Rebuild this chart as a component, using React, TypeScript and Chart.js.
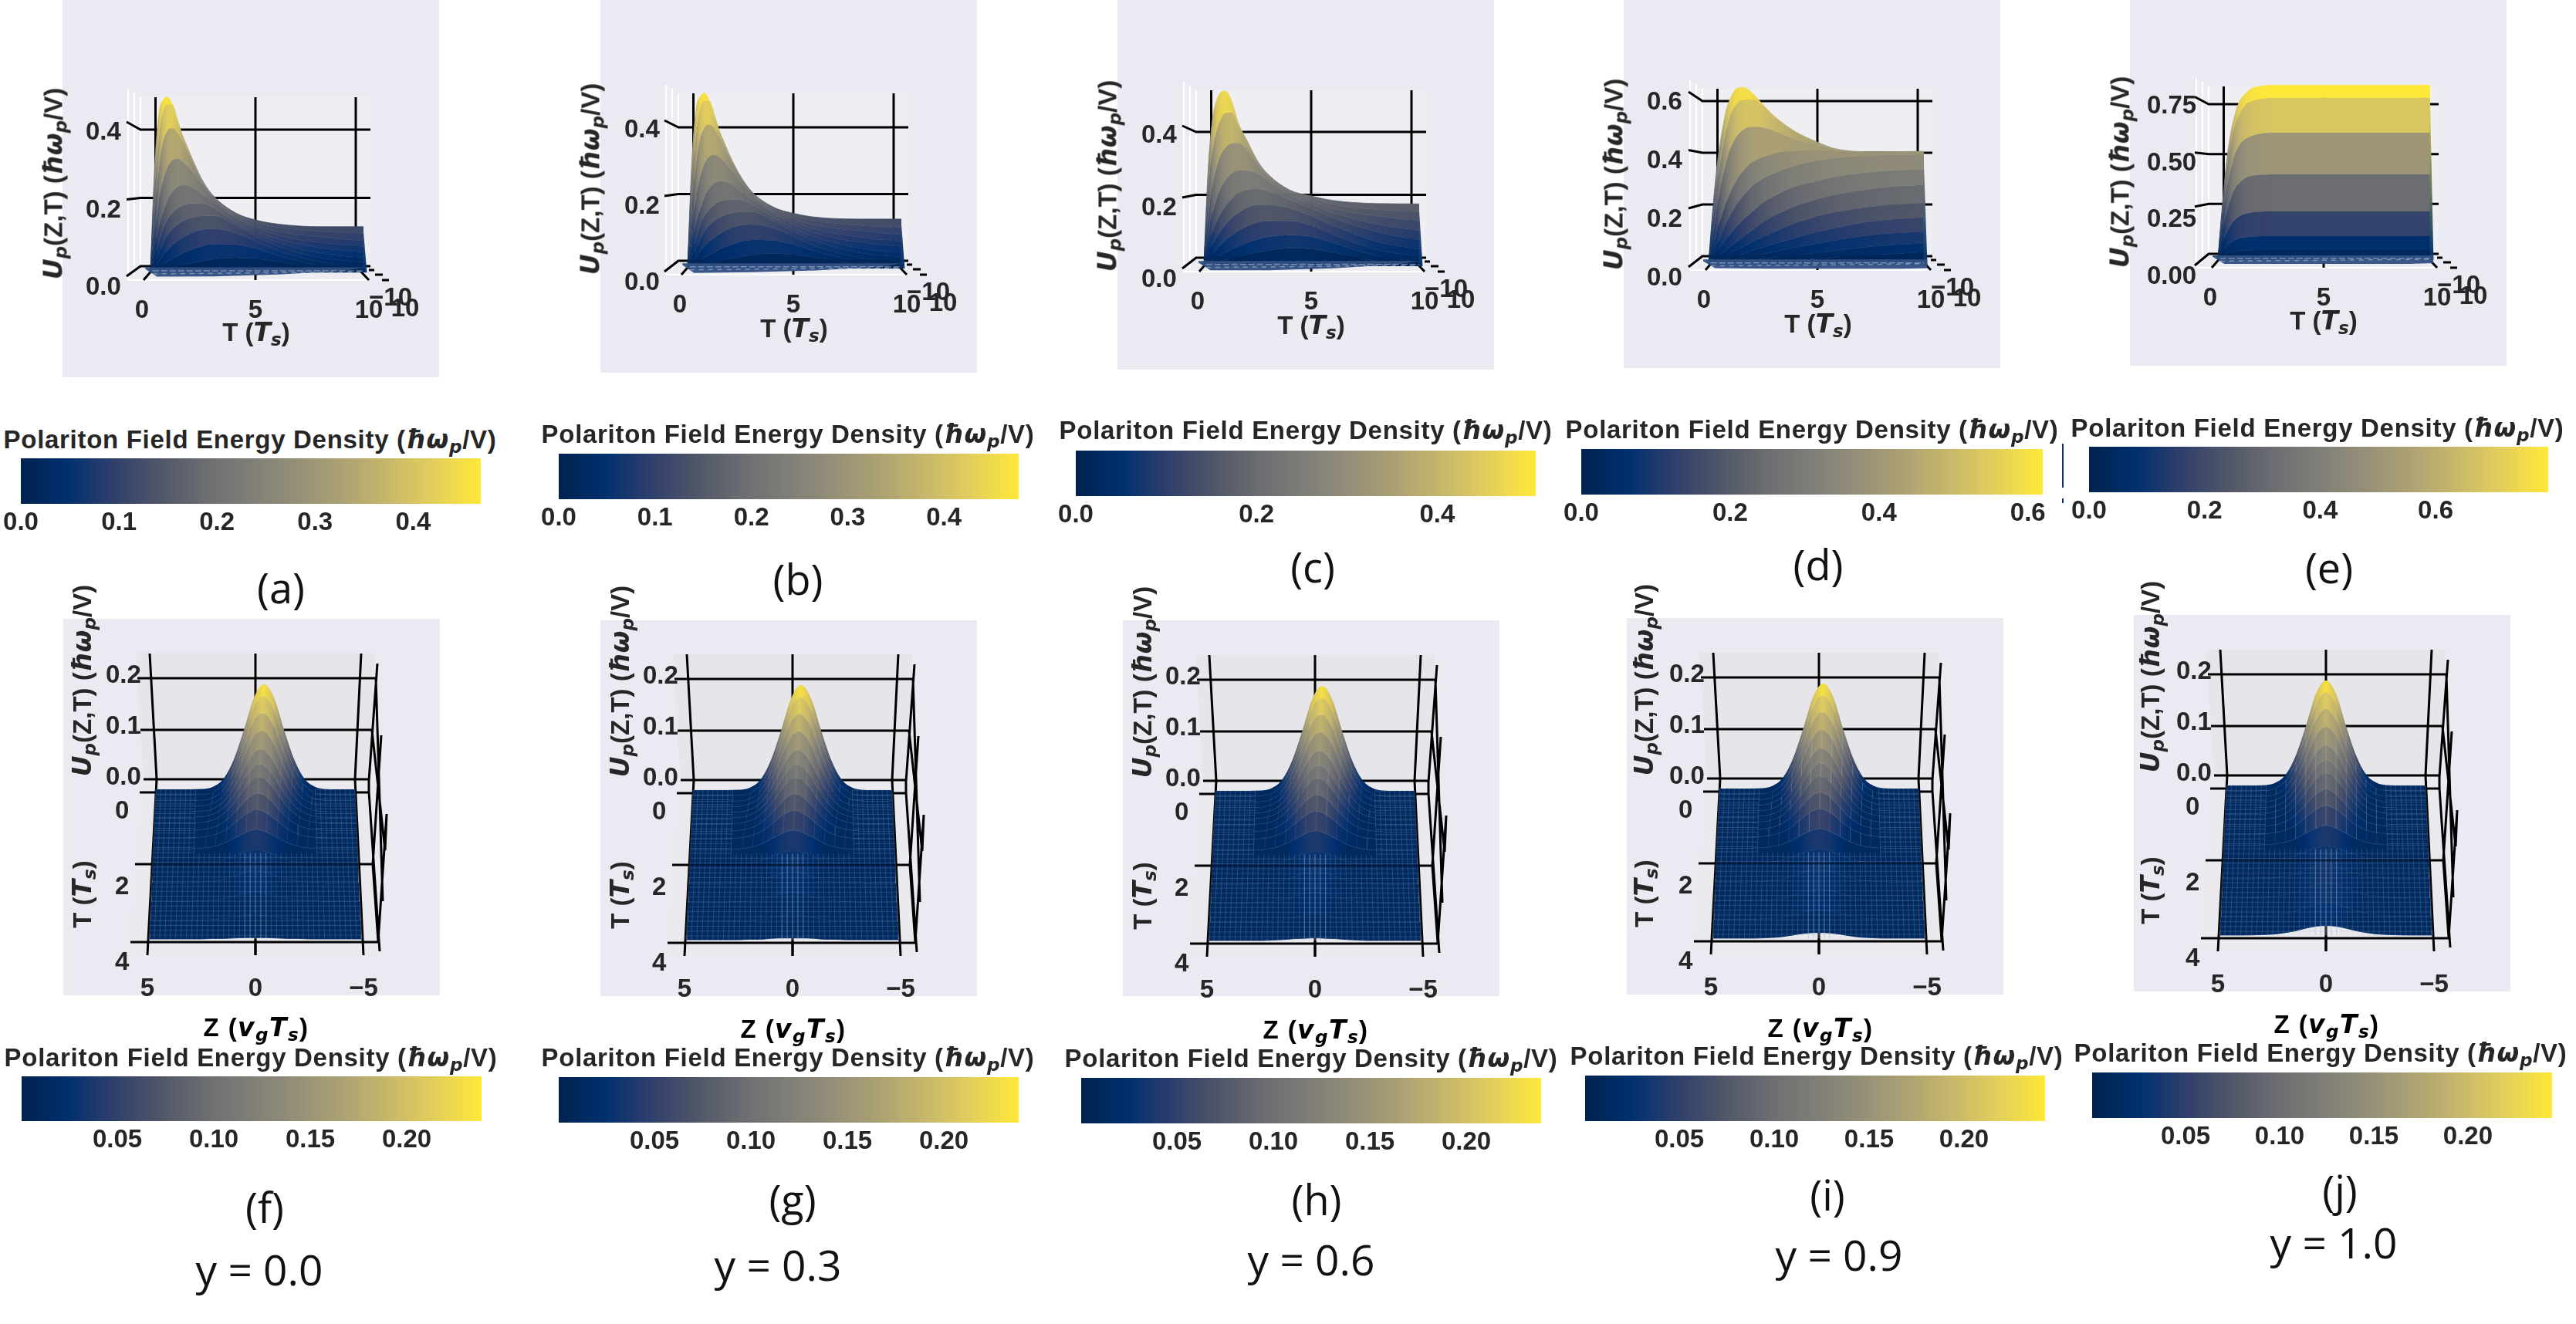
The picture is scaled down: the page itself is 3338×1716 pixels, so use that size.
import React, { useEffect, useRef } from "react";
import Chart from "chart.js/auto";

/* ---------- data ---------- */
const topTimes = [0, 0.2, 0.4, 0.6, 0.8, 1, 1.3, 1.6, 2, 2.5, 3, 4, 5, 6, 8, 10];

const curvesA = [
  [0.007, 0.286, 0.427, 0.463, 0.47, 0.453, 0.396, 0.355, 0.3, 0.241, 0.203, 0.16, 0.14, 0.13, 0.123, 0.123],
  [0.005, 0.207, 0.365, 0.434, 0.451, 0.451, 0.403, 0.35, 0.295, 0.238, 0.2, 0.155, 0.133, 0.121, 0.11, 0.105],
  [0.003, 0.152, 0.283, 0.352, 0.38, 0.387, 0.372, 0.341, 0.292, 0.236, 0.198, 0.152, 0.125, 0.11, 0.095, 0.085],
  [0.002, 0.096, 0.193, 0.248, 0.283, 0.3, 0.305, 0.293, 0.269, 0.231, 0.196, 0.148, 0.12, 0.1, 0.08, 0.07],
  [0.001, 0.062, 0.124, 0.162, 0.193, 0.214, 0.231, 0.234, 0.227, 0.207, 0.186, 0.146, 0.112, 0.09, 0.066, 0.055],
  [0.001, 0.04, 0.082, 0.118, 0.142, 0.158, 0.173, 0.181, 0.185, 0.184, 0.172, 0.135, 0.103, 0.08, 0.052, 0.04],
  [0, 0.026, 0.055, 0.08, 0.1, 0.115, 0.13, 0.14, 0.148, 0.152, 0.152, 0.127, 0.095, 0.07, 0.04, 0.028],
  [0, 0.014, 0.03, 0.047, 0.06, 0.072, 0.086, 0.097, 0.108, 0.116, 0.117, 0.106, 0.082, 0.058, 0.028, 0.016],
  [0, 0.007, 0.014, 0.022, 0.03, 0.036, 0.045, 0.054, 0.063, 0.072, 0.076, 0.075, 0.063, 0.045, 0.018, 0.007],
  [0, 0.002, 0.004, 0.007, 0.01, 0.013, 0.017, 0.021, 0.026, 0.032, 0.036, 0.04, 0.037, 0.029, 0.009, 0.002],
];
const curvesB = [
  [0.005, 0.29, 0.435, 0.47, 0.478, 0.46, 0.4, 0.36, 0.305, 0.25, 0.21, 0.168, 0.15, 0.14, 0.135, 0.135],
  [0.005, 0.21, 0.37, 0.44, 0.458, 0.458, 0.41, 0.355, 0.3, 0.247, 0.207, 0.163, 0.143, 0.13, 0.118, 0.112],
  [0.003, 0.155, 0.29, 0.358, 0.385, 0.393, 0.378, 0.346, 0.297, 0.245, 0.205, 0.158, 0.134, 0.118, 0.103, 0.092],
  [0.002, 0.098, 0.197, 0.252, 0.288, 0.305, 0.31, 0.298, 0.273, 0.235, 0.202, 0.153, 0.127, 0.107, 0.086, 0.075],
  [0, 0.063, 0.126, 0.165, 0.196, 0.218, 0.235, 0.238, 0.232, 0.21, 0.19, 0.15, 0.118, 0.096, 0.072, 0.06],
  [0, 0.04, 0.083, 0.12, 0.144, 0.16, 0.176, 0.184, 0.188, 0.187, 0.176, 0.14, 0.108, 0.085, 0.056, 0.043],
  [0, 0.026, 0.056, 0.081, 0.102, 0.117, 0.132, 0.142, 0.15, 0.155, 0.155, 0.131, 0.1, 0.074, 0.043, 0.03],
  [0, 0.014, 0.03, 0.048, 0.061, 0.073, 0.087, 0.098, 0.11, 0.118, 0.12, 0.11, 0.086, 0.06, 0.03, 0.017],
  [0, 0.007, 0.014, 0.022, 0.03, 0.037, 0.046, 0.055, 0.064, 0.073, 0.078, 0.077, 0.065, 0.047, 0.019, 0.007],
  [0, 0.002, 0.004, 0.007, 0.01, 0.013, 0.017, 0.021, 0.026, 0.032, 0.037, 0.041, 0.038, 0.03, 0.01, 0.002],
];
const curvesC = [
  [0.006, 0.282, 0.427, 0.483, 0.506, 0.509, 0.478, 0.416, 0.366, 0.305, 0.266, 0.221, 0.204, 0.191, 0.182, 0.181],
  [0.004, 0.215, 0.335, 0.395, 0.43, 0.445, 0.446, 0.405, 0.36, 0.3, 0.262, 0.218, 0.198, 0.18, 0.165, 0.158],
  [0.003, 0.14, 0.235, 0.29, 0.325, 0.345, 0.357, 0.358, 0.34, 0.295, 0.258, 0.212, 0.19, 0.168, 0.145, 0.132],
  [0.002, 0.09, 0.155, 0.197, 0.23, 0.25, 0.27, 0.278, 0.278, 0.27, 0.247, 0.205, 0.18, 0.155, 0.122, 0.103],
  [0.001, 0.058, 0.1, 0.13, 0.155, 0.175, 0.197, 0.212, 0.222, 0.224, 0.218, 0.192, 0.167, 0.14, 0.1, 0.076],
  [0, 0.035, 0.062, 0.085, 0.105, 0.12, 0.14, 0.155, 0.17, 0.178, 0.179, 0.168, 0.145, 0.118, 0.072, 0.049],
  [0, 0.02, 0.036, 0.05, 0.063, 0.075, 0.09, 0.103, 0.116, 0.127, 0.132, 0.132, 0.118, 0.092, 0.048, 0.027],
  [0, 0.01, 0.018, 0.026, 0.033, 0.04, 0.05, 0.058, 0.068, 0.078, 0.085, 0.09, 0.085, 0.068, 0.03, 0.012],
  [0, 0.004, 0.007, 0.011, 0.015, 0.018, 0.023, 0.028, 0.034, 0.04, 0.046, 0.052, 0.05, 0.04, 0.015, 0.005],
];
const curvesD = [
  [0.006, 0.197, 0.35, 0.453, 0.534, 0.579, 0.615, 0.619, 0.601, 0.561, 0.522, 0.466, 0.43, 0.403, 0.394, 0.396],
  [0.005, 0.152, 0.282, 0.381, 0.462, 0.52, 0.561, 0.574, 0.576, 0.557, 0.52, 0.464, 0.426, 0.401, 0.392, 0.394],
  [0.004, 0.098, 0.201, 0.287, 0.354, 0.403, 0.448, 0.471, 0.482, 0.48, 0.469, 0.439, 0.42, 0.399, 0.39, 0.393],
  [0.003, 0.058, 0.12, 0.17, 0.214, 0.251, 0.296, 0.327, 0.357, 0.375, 0.387, 0.399, 0.401, 0.397, 0.39, 0.392],
  [0.002, 0.035, 0.071, 0.107, 0.143, 0.174, 0.21, 0.24, 0.273, 0.3, 0.318, 0.345, 0.363, 0.374, 0.383, 0.385],
  [0.001, 0.022, 0.044, 0.066, 0.089, 0.107, 0.134, 0.156, 0.183, 0.215, 0.237, 0.273, 0.291, 0.309, 0.327, 0.333],
  [0, 0.013, 0.024, 0.037, 0.051, 0.062, 0.08, 0.096, 0.119, 0.147, 0.17, 0.203, 0.228, 0.246, 0.269, 0.278],
  [0, 0.008, 0.015, 0.023, 0.031, 0.04, 0.051, 0.062, 0.078, 0.097, 0.113, 0.145, 0.168, 0.185, 0.206, 0.215],
  [0, 0.005, 0.009, 0.014, 0.019, 0.024, 0.031, 0.038, 0.048, 0.06, 0.071, 0.092, 0.113, 0.13, 0.155, 0.165],
  [0, 0.003, 0.006, 0.009, 0.012, 0.015, 0.019, 0.023, 0.029, 0.037, 0.044, 0.059, 0.073, 0.087, 0.107, 0.116],
  [0, 0.002, 0.003, 0.005, 0.006, 0.008, 0.01, 0.013, 0.016, 0.02, 0.024, 0.032, 0.041, 0.05, 0.066, 0.075],
  [0, 0.001, 0.002, 0.002, 0.003, 0.004, 0.005, 0.006, 0.008, 0.01, 0.012, 0.016, 0.02, 0.026, 0.036, 0.044],
];
const curvesE = [
  [0, 0.25, 0.46, 0.6, 0.69, 0.75, 0.79, 0.815, 0.825, 0.83, 0.83, 0.83, 0.83, 0.83, 0.83, 0.83],
  [0, 0.23, 0.42, 0.55, 0.64, 0.69, 0.735, 0.755, 0.765, 0.77, 0.77, 0.77, 0.77, 0.77, 0.77, 0.77],
  [0, 0.18, 0.33, 0.43, 0.5, 0.545, 0.575, 0.59, 0.6, 0.604, 0.604, 0.604, 0.604, 0.604, 0.604, 0.604],
  [0, 0.12, 0.22, 0.29, 0.34, 0.365, 0.39, 0.4, 0.405, 0.407, 0.407, 0.407, 0.407, 0.407, 0.407, 0.407],
  [0, 0.07, 0.127, 0.167, 0.192, 0.208, 0.22, 0.226, 0.23, 0.231, 0.231, 0.231, 0.231, 0.231, 0.231, 0.231],
  [0, 0.034, 0.062, 0.082, 0.095, 0.103, 0.108, 0.112, 0.114, 0.114, 0.114, 0.114, 0.114, 0.114, 0.114, 0.114],
  [0, 0.014, 0.026, 0.034, 0.04, 0.043, 0.046, 0.047, 0.048, 0.048, 0.048, 0.048, 0.048, 0.048, 0.048, 0.048],
  [0, 0.006, 0.011, 0.014, 0.016, 0.018, 0.019, 0.02, 0.02, 0.02, 0.02, 0.02, 0.02, 0.02, 0.02, 0.02],
];

const floorTimes = [-0.25, 0.3, 3, 6, 9, 10.16];
const floorLowA = [0.01, -0.011, -0.01, -0.005, 0.005, 0.014];
const floorLowB = [0.01, -0.012, -0.01, -0.005, 0.005, 0.015];
const floorLowC = [0.01, -0.012, -0.012, -0.006, 0.005, 0.017];
const floorLowD = [0.012, -0.012, -0.014, -0.014, -0.014, -0.012];
const floorLowE = [0.016, -0.018, -0.018, -0.018, -0.018, -0.015];

const wallTicksAC = [0, 0.2, 0.4];
const wallTicksD = [0, 0.2, 0.4, 0.6];
const wallTicksE = [0, 0.25, 0.5, 0.75];
const timeTicks = [0, 5, 10];
const zTicks = [5, 0, -5];
const slowTicks = [0, 2, 4];
const energyTicks = [0, 0.1, 0.2];
const barTicksAB = [0, 0.1, 0.2, 0.3, 0.4];
const barTicksC = [0, 0.2, 0.4];
const barTicksD = [0, 0.2, 0.4, 0.6];
const barTicksRow2 = [0.05, 0.1, 0.15, 0.2];

const zSamples = [5, 4, 3, 2.5, 2, 1.5, 1, 0.5, 0, -0.5, -1, -1.5, -2, -2.5, -3, -4, -5];
const bumpDistance = [0, 0.5, 1, 1.5, 2, 2.5, 3];
const rowTimes = [0, 0.15, 0.3, 0.45, 0.6, 0.75, 0.9, 1.1, 1.3, 1.6, 2, 2.5, 3, 3.5, 4];
const rowLean = [1, 0.92, 0.82, 0.72, 0.62, 0.52, 0.42, 0.3, 0.2, 0.1, 0.03, 0, 0, 0, 0];
const bumpEarly = [
  [0.24, 0.21, 0.137, 0.07, 0.026, 0.007, 0.001],
  [0.225, 0.197, 0.129, 0.066, 0.025, 0.007, 0.001],
  [0.2, 0.175, 0.115, 0.059, 0.022, 0.006, 0.001],
  [0.172, 0.151, 0.099, 0.051, 0.019, 0.006, 0.001],
  [0.143, 0.125, 0.082, 0.043, 0.017, 0.005, 0.001],
  [0.122, 0.106, 0.07, 0.037, 0.015, 0.005, 0.001],
  [0.105, 0.091, 0.06, 0.032, 0.013, 0.004, 0.001],
  [0.085, 0.074, 0.049, 0.026, 0.011, 0.004, 0.001],
  [0.065, 0.056, 0.038, 0.02, 0.009, 0.003, 0.001],
  [0.045, 0.039, 0.027, 0.015, 0.007, 0.003, 0.001],
  [0.032, 0.028, 0.019, 0.011, 0.005, 0.002, 0.001],
];
const bumpLateF = [
  [0.028, 0.024, 0.016, 0.009, 0.004, 0.002, 0.001],
  [0.022, 0.019, 0.013, 0.007, 0.003, 0.002, 0.001],
  [0.012, 0.01, 0.007, 0.004, 0.002, 0.001, 0.001],
  [0.003, 0.003, 0.002, 0.001, 0.001, 0, 0],
];
const bumpLateG = [
  [0.028, 0.024, 0.016, 0.009, 0.004, 0.002, 0.001],
  [0.023, 0.02, 0.013, 0.007, 0.003, 0.002, 0.001],
  [0.014, 0.012, 0.008, 0.004, 0.002, 0.001, 0.001],
  [0.004, 0.004, 0.003, 0.001, 0.001, 0, 0],
];
const bumpLateH = [
  [0.029, 0.025, 0.017, 0.01, 0.005, 0.002, 0.001],
  [0.025, 0.022, 0.015, 0.008, 0.004, 0.002, 0.001],
  [0.017, 0.015, 0.01, 0.005, 0.003, 0.001, 0.001],
  [0.006, 0.005, 0.004, 0.002, 0.001, 0, 0],
];
const bumpLateI = [
  [0.03, 0.026, 0.018, 0.01, 0.005, 0.002, 0.001],
  [0.027, 0.024, 0.017, 0.009, 0.004, 0.002, 0.001],
  [0.021, 0.019, 0.014, 0.008, 0.004, 0.002, 0.001],
  [0.013, 0.012, 0.009, 0.005, 0.002, 0.001, 0],
];
const bumpLateJ = [
  [0.033, 0.029, 0.02, 0.012, 0.006, 0.003, 0.001],
  [0.033, 0.03, 0.021, 0.012, 0.006, 0.003, 0.001],
  [0.03, 0.027, 0.02, 0.012, 0.006, 0.003, 0.001],
  [0.022, 0.02, 0.015, 0.009, 0.005, 0.002, 0.001],
];

/* ---------- layout ---------- */
const topLayout = [
  { id: "a", lav: [81, 0, 488, 489], cx: 331, y0: 345, top: -219, wallK: 442.5, wallTicks: wallTicksAC, drops: [13, 2, -10], labelZero: 373, labelK: 502, labelTicks: wallTicksAC, dec: 1, yPad: -50, t0: 195, t10: 471, base: 353.3, k: 483.7, curves: curvesA, cmax: 0.47, floorLow: floorLowA, floorHigh: 0.014, title: [68.5, 238], tLabel: [332, 430], bar: [27, 594, 596, 59], range: [0, 0.469], barTicks: barTicksAB, barDec: 1, barTitle: [324, 569], tag: [364, 761] },
  { id: "b", lav: [778, 0, 488, 483], cx: 1028, y0: 338, top: -217, wallK: 432.5, wallTicks: wallTicksAC, drops: [14, 2.5, -9], labelZero: 367, labelK: 495, labelTicks: wallTicksAC, dec: 1, yPad: -49, t0: 891, t10: 1168, base: 348, k: 475, curves: curvesB, cmax: 0.478, floorLow: floorLowB, floorHigh: 0.014, title: [765, 232], tLabel: [1029, 425], bar: [724, 588, 596, 59], range: [0, 0.4776], barTicks: barTicksAB, barDec: 1, barTitle: [1021, 562], tag: [1034, 750] },
  { id: "c", lav: [1448, 0, 488, 479], cx: 1699, y0: 334, top: -217, wallK: 407.5, wallTicks: wallTicksAC, drops: [14, 3.5, -8], labelZero: 363, labelK: 467, labelTicks: wallTicksAC, dec: 1, yPad: -50, t0: 1560, t10: 1839, base: 345, k: 446, curves: curvesC, cmax: 0.51, floorLow: floorLowC, floorHigh: 0.015, title: [1435, 228], tLabel: [1699, 421], bar: [1394, 584, 596, 59], range: [0, 0.509], barTicks: barTicksC, barDec: 1, barTitle: [1692, 557], tag: [1701, 734] },
  { id: "d", lav: [2104, 0, 488, 477], cx: 2355, y0: 332, top: -217, wallK: 335, wallTicks: wallTicksD, drops: [14, 5, -3.5, -12], labelZero: 361, labelK: 380, labelTicks: wallTicksD, dec: 1, yPad: -51, t0: 2214, t10: 2493, base: 343, k: 371, curves: curvesD, cmax: 0.62, floorLow: floorLowD, floorHigh: 0.018, title: [2091, 226], tLabel: [2356, 419], bar: [2049, 582, 598, 59], range: [0, 0.62], barTicks: barTicksD, barDec: 1, barTitle: [2348, 556], tag: [2356, 731] },
  { id: "e", lav: [2760, 0, 488, 474], cx: 3011, y0: 329, top: -217, wallK: 258.7, wallTicks: wallTicksE, drops: [15, 3.5, -2, -9.5], labelZero: 359, labelK: 295, labelTicks: wallTicksE, dec: 2, yPad: -59, t0: 2874, t10: 3149, base: 337, k: 273, curves: curvesE, cmax: 0.8, floorLow: floorLowE, floorHigh: 0.022, title: [2747, 222.6], tLabel: [3011, 415], bar: [2707, 579, 595, 59], range: [0, 0.795], barTicks: barTicksD, barDec: 1, barTitle: [3003, 554], tag: [3018, 735] },
];
const bottomLayout = [
  { id: "f", lav: [82, 802, 488, 488], mid: 331, y0: 1010, lean: 0.43, late: bumpLateF, bar: [28, 1395, 596, 58], range: [0.0004, 0.2388], titleX: 106, zLabel: [332, 1331], barTitle: [325, 1370], tag: [343, 1564], yTag: "y = 0.0", yPos: [336, 1644] },
  { id: "g", lav: [778, 804, 488, 487], mid: 1027, y0: 1011, lean: 0.43, late: bumpLateG, bar: [724, 1396, 596, 59], range: [0.0004, 0.2388], titleX: 803, zLabel: [1028, 1333], barTitle: [1021, 1370], tag: [1027, 1554], yTag: "y = 0.3", yPos: [1008, 1638] },
  { id: "h", lav: [1455, 804, 488, 487], mid: 1704, y0: 1012, lean: 0.36, late: bumpLateH, bar: [1401, 1397, 596, 59], range: [0.0004, 0.2388], titleX: 1480, zLabel: [1705, 1334], barTitle: [1699, 1371], tag: [1706, 1554], yTag: "y = 0.6", yPos: [1699, 1631] },
  { id: "i", lav: [2108, 801, 488, 488], mid: 2357, y0: 1009, lean: 0.21, late: bumpLateI, bar: [2054, 1394, 596, 59], range: [0.0004, 0.2427], titleX: 2130, zLabel: [2359, 1332], barTitle: [2354, 1368], tag: [2368, 1548], yTag: "y = 0.9", yPos: [2383, 1625] },
  { id: "j", lav: [2765, 797, 488, 488], mid: 3014, y0: 1005, lean: 0, late: bumpLateJ, bar: [2711, 1390, 596, 59], range: [0.0004, 0.2447], titleX: 2786, zLabel: [3015, 1327], barTitle: [3007, 1364], tag: [3032, 1542], yTag: "y = 1.0", yPos: [3024, 1609] },
];

const INK = "#262626";
const LAV = "#eaeaf2";
const SANS = "'Liberation Sans', Arial, sans-serif";
const TICK_FONT = { family: "'Liberation Sans'", size: 33, weight: "bold" };
const CIVIDIS = ["#00224e", "#00306f", "#2f3f6c", "#505668", "#6b6d71", "#7f7e77", "#958f78", "#ada273", "#c7b86a", "#e4cf5b", "#fee838"];
const FALLBACK = "#123a70";
const CANVAS_EXTRA = 30;
const X_AXIS_H = 60;

function cmap(t: number) {
  const v = Math.max(0, Math.min(1, t)) * (CIVIDIS.length - 1);
  const i = Math.min(CIVIDIS.length - 2, Math.floor(v));
  const f = v - i;
  const a = CIVIDIS[i], b = CIVIDIS[i + 1];
  const ch = (s: string, p: number) => parseInt(s.slice(p, p + 2), 16);
  const mix = (p: number) => Math.round(ch(a, p) + (ch(b, p) - ch(a, p)) * f);
  return `rgb(${mix(1)},${mix(3)},${mix(5)})`;
}
const finite = (...v: number[]) => v.every((n) => Number.isFinite(n));

/* A scale whose value v0 sits at page pixel px0, with k pixels per unit. */
function spanX(px0: number, v0: number, k: number, l: number, r: number) {
  return { min: v0 + (l - px0) / k, max: v0 + (r - px0) / k };
}
function spanY(px0: number, v0: number, k: number, t: number, b: number) {
  return { min: v0 + (px0 - b) / k, max: v0 + (px0 - t) / k };
}
const hiddenX = (s: any) => ({ type: "linear", axis: "x", display: false, position: "bottom", ...s });
const hiddenY = (s: any) => ({ type: "linear", axis: "y", display: false, position: "left", ...s });
const base = { pointRadius: 0, borderWidth: 0, clip: false, spanGaps: false, fill: false };
const GAP = { x: 0, y: NaN };
const setTicks = (vals: number[]) => (s: any) => { s.ticks = vals.map((value) => ({ value })); };
const fitW = (w: number) => (s: any) => { s.width = w; s.paddingTop = 0; s.paddingBottom = 0; };
const fitH = (h: number) => (s: any) => { s.height = h; s.paddingLeft = 0; s.paddingRight = 0; };
const labelAxis = (extra: any, pad: number, fmt: (v: number) => string, mirror = false) => ({
  type: "linear",
  grid: { display: false },
  border: { display: false },
  ticks: { font: TICK_FONT, color: INK, padding: pad, mirror, autoSkip: false, maxRotation: 0, minRotation: 0, z: 1, callback: fmt },
  ...extra,
});
const shared = { responsive: false, animation: false, devicePixelRatio: 1, events: [], plugins: { legend: { display: false }, tooltip: { enabled: false }, title: { display: false } } };

/* ---------- top row: T-section of the surface ---------- */
function topConfig(p: any) {
  const cx = p.cx, y0 = p.y0, K = p.wallK;
  const area = { l: cx - 170, r: cx + 176, t: y0 - 235, b: y0 + 31 };
  const [cvx, cvy, cvw, lavH] = p.lav;
  const cvh = lavH + CANVAS_EXTRA;
  const F = (rx: number, ry: number) => ({ x: 5 + rx / 25.9, y: -ry / K });
  const xs = (p.t10 - p.t0) / 10;
  const n = p.curves.length;
  const strip = (i: number) => (c: any) => {
    const sc = c.chart.scales.xs;
    if (!sc) return FALLBACK;
    const a = sc.getPixelForValue(0), b = sc.getPixelForValue(10);
    if (!finite(a, b)) return FALLBACK;
    const g = c.chart.ctx.createLinearGradient(a, 0, b, 0);
    topTimes.forEach((t, j) => {
      const up = p.curves[i][j];
      const lo = i + 1 < n ? p.curves[i + 1][j] : 0;
      g.addColorStop(t / 10, cmap((up + lo) / 2 / p.cmax));
    });
    return g;
  };
  const strips = p.curves.map((row: number[], i: number) => ({
    ...base,
    label: `Z slice ${i}`,
    data: row.map((y, j) => ({ x: topTimes[j], y })),
    xAxisID: "xs", yAxisID: "ys",
    cubicInterpolationMode: "monotone",
    fill: i + 1 < n ? "+1" : { value: 0 },
    backgroundColor: strip(i),
    borderColor: strip(i),
    borderWidth: 0.8,
  }));
  const edgeTop = p.curves[0][topTimes.length - 1];
  const edge = {
    ...base,
    label: "edge",
    data: [{ x: 9.98, y: edgeTop }, { x: 10.16, y: 0 }, { x: 9.98, y: 0 }, { x: 9.98, y: edgeTop }],
    xAxisID: "xs", yAxisID: "ys",
    fill: "shape",
    backgroundColor: (c: any) => {
      const sc = c.chart.scales.ys;
      if (!sc) return FALLBACK;
      const a = sc.getPixelForValue(edgeTop), b = sc.getPixelForValue(0);
      if (!finite(a, b)) return FALLBACK;
      const g = c.chart.ctx.createLinearGradient(0, a, 0, b);
      g.addColorStop(0, cmap(edgeTop / p.cmax * 0.98));
      g.addColorStop(1, cmap(0.1));
      return g;
    },
  };
  const floorPts = p.floorLow.map((y: number, j: number) => ({ x: floorTimes[j], y }));
  const floor = {
    ...base, label: "floor", data: floorPts, xAxisID: "xs", yAxisID: "ys",
    fill: { value: p.floorHigh }, backgroundColor: "rgba(50,80,130,0.96)",
  };
  const dashU = p.floorHigh * 0.35;
  const dashes = [dashU, dashU - p.floorHigh * 0.6].map((u, i) => ({
    ...base, label: `floor mesh ${i}`,
    data: [{ x: 0.1, y: u }, { x: 10, y: u + (i ? p.floorHigh * 0.4 : 0) }],
    xAxisID: "xs", yAxisID: "ys",
    borderWidth: 1.5, borderColor: "rgba(175,195,220,0.55)", borderDash: i ? [6, 6] : [8, 3],
  }));
  const blk: any[] = [];
  const seg = (...pts: number[][]) => { pts.forEach((q) => blk.push(F(q[0], q[1]))); blk.push(GAP); };
  p.wallTicks.forEach((v: number, i: number) => {
    const ry = -v * K;
    seg([-167, ry + p.drops[i]], [-149, ry], [149, ry]);
  });
  seg([-129.5, p.top], [-129.5, 0], [-145, 18]);
  seg([0, p.top], [0, 18]);
  seg([130, p.top], [130, 0], [147, 18]);
  seg([147, 5], [154, 5]); seg([155, 11], [165, 11]); seg([164, 18], [173, 18]);
  const wht: any[] = [];
  const segW = (...pts: number[][]) => { pts.forEach((q) => wht.push(F(q[0], q[1]))); wht.push(GAP); };
  segW([-165, p.top - 11], [-165, 18]); segW([-157, p.top - 6], [-157, 13]); segW([-149, p.top], [-149, 0]);
  segW([-165, 18], [146, 18]);
  const poly = (pts: number[][], color: string, label: string) => ({
    ...base, label, data: [...pts, pts[0]].map((q) => F(q[0], q[1])), xAxisID: "xw", yAxisID: "yw", fill: "shape", backgroundColor: color,
  });
  const frame = { ...base, label: "axes", data: blk, xAxisID: "xw", yAxisID: "yw", borderWidth: 3, borderColor: "#000" };
  const white = { ...base, label: "panes", data: wht, xAxisID: "xw", yAxisID: "yw", borderWidth: 2, borderColor: "#fff" };
  const datasets = [
    ...dashes, floor, edge, ...strips, frame, white,
    poly([[-149, p.top], [149, p.top], [149, 0], [-149, 0]], "#eeeef3", "back wall"),
    poly([[-149, 0], [149, 0], [146, 18], [-165, 18]], "#ededf1", "floor pane"),
    poly([[-165, p.top - 11], [-149, p.top], [-149, 0], [-165, 18]], "#ececf1", "side wall"),
  ];
  const fmt = (v: number) => Number(v).toFixed(p.dec);
  return {
    type: "line",
    data: { datasets },
    options: {
      ...shared,
      layout: { padding: { left: area.l - cvx - 1, right: cvx + cvw - area.r, top: area.t - cvy, bottom: cvy + cvh - area.b - X_AXIS_H } },
      scales: {
        x: labelAxis({ position: "bottom", ...spanX(cx - 147, 0, 29.4, area.l, area.r), afterBuildTicks: setTicks(timeTicks), afterFit: fitH(X_AXIS_H) }, -1, (v: number) => String(v)),
        y: labelAxis({ position: "left", ...spanY(p.labelZero, 0, p.labelK, area.t, area.b), afterBuildTicks: setTicks(p.labelTicks), afterFit: fitW(1) }, p.yPad, fmt, true),
        xs: hiddenX(spanX(p.t0, 0, xs, area.l, area.r)),
        ys: hiddenY(spanY(p.base, 0, p.k, area.t, area.b)),
        xw: hiddenX(spanX(cx, 5, 25.9, area.l, area.r)),
        yw: hiddenY(spanY(y0, 0, K, area.t, area.b)),
      },
    },
  };
}

/* ---------- bottom row: rows of the surface across Z ---------- */
const planeScale = (T: number) => (129 + 2.25 * T) / 140;
const planeBase = (T: number) => -(13 + 48.5 * T) / 655;
const CMAX2 = 0.24;

function bottomConfig(p: any) {
  const mid = p.mid, y0 = p.y0;
  const area = { l: mid - 170, r: mid + 175, t: y0 - 170, b: y0 + 240 };
  const [cvx, cvy, cvw, lavH] = p.lav;
  const cvh = lavH + CANVAS_EXTRA;
  const rows = [...bumpEarly, ...p.late];
  const valueAt = (k: number, Z: number) => {
    const j = bumpDistance.indexOf(Math.abs(Z));
    return j < 0 ? 0 : rows[k][j];
  };
  const px = (k: number, Z: number) => planeScale(rowTimes[k]) * (Z + (Math.abs(Z) < 3.5 ? -p.lean * rowLean[k] : 0));
  const py = (k: number, Z: number) => planeBase(rowTimes[k]) + valueAt(k, Z) * (567 / 655);
  const rowPts = (k: number) => zSamples.map((Z) => ({ x: px(k, Z), y: py(k, Z) }));
  const strip = (k: number) => (c: any) => {
    const sc = c.chart.scales.x;
    if (!sc) return FALLBACK;
    const a = sc.getPixelForValue(5), b = sc.getPixelForValue(-5);
    if (!finite(a, b)) return FALLBACK;
    const g = c.chart.ctx.createLinearGradient(a, 0, b, 0);
    zSamples.forEach((Z) => {
      const pos = (sc.getPixelForValue(px(k, Z)) - a) / (b - a);
      const u = (valueAt(k, Z) + valueAt(k - 1, Z)) / 2;
      g.addColorStop(Math.max(0, Math.min(1, pos)), cmap(Math.max(u / CMAX2, 0.055)));
    });
    return g;
  };
  const strips: any[] = [];
  for (let k = rowTimes.length - 1; k >= 0; k--) {
    strips.push({
      ...base, label: `T row ${rowTimes[k]}`, data: rowPts(k), xAxisID: "x", yAxisID: "yw",
      cubicInterpolationMode: "monotone",
      fill: k > 0 ? "+1" : false,
      backgroundColor: k > 0 ? strip(k) : "transparent",
      borderColor: k > 0 ? strip(k) : "transparent",
      borderWidth: k > 0 ? 0.8 : 0,
    });
  }
  const curvedRows = [1, 2, 3, 4, 5, 6, 7, 8, 9];
  const rowLines = curvedRows.map((k) => ({
    ...base, label: `row line ${k}`, data: rowPts(k), xAxisID: "x", yAxisID: "yw",
    cubicInterpolationMode: "monotone", borderWidth: 1, borderColor: "rgba(190,200,215,0.1)",
  }));
  const cols: any[] = [];
  zSamples.filter((Z) => Math.abs(Z) <= 2.5).forEach((Z) => {
    curvedRows.forEach((k) => cols.push({ x: px(k, Z), y: py(k, Z) }));
    cols.push(GAP);
  });
  const flat: any[] = [];
  const P = (T: number, Z: number) => ({ x: planeScale(T) * Z, y: planeBase(T) });
  for (let Z = -5; Z <= 5.001; Z += 0.25) {
    flat.push(P(Math.abs(Z) >= 3 ? 0 : 1.7, Z), P(4, Z), GAP);
  }
  for (let T = 0; T <= 4.001; T += 0.13) {
    if (T >= 1.7) flat.push(P(T, -5), P(T, 5), GAP);
    else flat.push(P(T, -5), P(T, -3), GAP, P(T, 3), P(T, 5), GAP);
  }
  const meshColor = "rgba(165,185,215,0.22)";
  const G = (rx: number, ry: number) => ({ x: -rx / 28, y: -ry / 655 });
  const blk: any[] = [];
  const seg = (...pts: number[][]) => { pts.forEach((q) => blk.push(G(q[0], q[1]))); blk.push(GAP); };
  seg([-153, -131], [156, -131]);
  seg([-149, -64], [152, -64]);
  seg([-145, 0], [148, 0]);
  seg([-150, 17], [148, 17]);
  seg([-156, 110], [154, 110]);
  seg([-162, 211], [160, 211]);
  seg([-137, -163], [-128, 0], [-140, 228]);
  seg([0, -163], [0, 228]);
  seg([137, -163], [129, 0], [140, 228]);
  seg([158, -150], [147, 2], [147, 16], [161, 223]);
  seg([156, -131], [165, 158]);
  seg([163, -57], [152, 110], [159, 210]);
  seg([151, -63], [168, 92]);
  seg([170, 45], [168, 92]);
  seg([170, 45], [159, 210]);
  const frame = { ...base, label: "axes", data: blk, xAxisID: "x", yAxisID: "yw", borderWidth: 3, borderColor: "#000" };
  const poly = (pts: number[][], color: string, label: string) => ({
    ...base, label, data: [...pts, pts[0]].map((q) => G(q[0], q[1])), xAxisID: "x", yAxisID: "yw", fill: "shape", backgroundColor: color,
  });
  const t2 = { ...base, label: "T=2 through the surface", data: [G(-134, 110), G(135, 110)], xAxisID: "x", yAxisID: "yw", borderWidth: 2.5, borderColor: "rgba(0,15,40,0.6)" };
  const tickBelow = { ...base, label: "Z=0 tick", data: [G(0, 208), G(0, 228)], xAxisID: "x", yAxisID: "yw", borderWidth: 3, borderColor: "#000" };
  const datasets = [
    t2, tickBelow,
    { ...base, label: "flat mesh", data: flat, xAxisID: "x", yAxisID: "yw", borderWidth: 1, borderColor: meshColor },
    { ...base, label: "column mesh", data: cols, xAxisID: "x", yAxisID: "yw", borderWidth: 1, borderColor: "rgba(195,205,220,0.1)" },
    ...rowLines,
    ...strips,
    frame,
    poly([[-155, -163], [155, -163], [148, 0], [-145, 0]], "#e5e5ea", "back wall"),
    poly([[-145, 0], [148, 0], [160, 225], [-162, 225]], "#e9e9ee", "floor pane"),
  ];
  const zr = spanX(mid, 0, 28, area.l, area.r);
  const tr = spanX(y0 + 42, 0, 49, area.t, area.b);
  return {
    type: "line",
    data: { datasets },
    options: {
      ...shared,
      layout: { padding: { left: area.l - cvx - 2, right: cvx + cvw - area.r, top: area.t - cvy, bottom: cvy + cvh - area.b - X_AXIS_H } },
      scales: {
        x: labelAxis({ position: "bottom", reverse: true, min: -zr.max, max: -zr.min, afterBuildTicks: setTicks(zTicks), afterFit: fitH(X_AXIS_H) }, 4, (v: number) => (v < 0 ? `\u2212${-v}` : String(v))),
        y: labelAxis({ position: "left", weight: 0, ...spanY(y0 - 2, 0, 660, area.t, area.b), afterBuildTicks: setTicks(energyTicks), afterFit: fitW(1) }, -24, (v: number) => Number(v).toFixed(1), true),
        yT: labelAxis({ position: "left", weight: 10, reverse: true, min: tr.min, max: tr.max, afterBuildTicks: setTicks(slowTicks), afterFit: fitW(1) }, -11, (v: number) => String(v), true),
        yw: hiddenY(spanY(y0, 0, 655, area.t, area.b)),
      },
    },
  };
}

/* ---------- colour bars ---------- */
function barConfig(range: number[], ticks: number[], dec: number) {
  return {
    type: "bar",
    data: {
      labels: ["energy"],
      datasets: [{
        data: [range],
        barPercentage: 1,
        categoryPercentage: 1,
        borderWidth: 0,
        backgroundColor: (c: any) => {
          const a = c.chart.chartArea;
          if (!a || !finite(a.left, a.right)) return FALLBACK;
          const g = c.chart.ctx.createLinearGradient(a.left, 0, a.right, 0);
          CIVIDIS.forEach((col, i) => g.addColorStop(i / (CIVIDIS.length - 1), col));
          return g;
        },
      }],
    },
    options: {
      ...shared,
      indexAxis: "y",
      layout: { padding: { left: 60, right: 60, top: 0, bottom: 5 } },
      scales: {
        x: labelAxis({ position: "bottom", min: range[0], max: range[1], afterBuildTicks: setTicks(ticks), afterFit: fitH(55) }, -3, (v: number) => Number(v).toFixed(dec)),
        y: { type: "category", display: false },
      },
    },
  };
}

/* ---------- components ---------- */
function Plot({ x, y, w, h, make }: any) {
  const ref = useRef<HTMLCanvasElement>(null);
  useEffect(() => {
    const chart = new Chart(ref.current as any, make() as any);
    return () => chart.destroy();
  }, []);
  return <canvas ref={ref} width={w} height={h} style={{ position: "absolute", left: x, top: y, width: w, height: h }} />;
}

const mathStyle: any = { fontFamily: "'DejaVu Sans'", fontStyle: "italic", fontWeight: "bold" };
const subStyle: any = { fontSize: "0.7em", verticalAlign: "-0.28em", lineHeight: 0 };
const M = ({ children }: any) => <span style={mathStyle}>{children}</span>;
const Sub = ({ children }: any) => <span style={subStyle}>{children}</span>;

function Txt({ x, y, rot, size = 33, bold = true, font = SANS, color = INK, spacing, children }: any) {
  return (
    <div style={{
      position: "absolute", left: x, top: y, whiteSpace: "nowrap", color, fontFamily: font,
      fontWeight: bold ? "bold" : "normal", fontSize: size, lineHeight: 1, letterSpacing: spacing,
      transform: `translate(-50%,-50%)${rot ? ` rotate(${rot}deg)` : ""}`,
    }}>{children}</div>
  );
}
const EnergyAxis = () => <><M>U<Sub>p</Sub></M>(Z,T) (<M>ħω<Sub>p</Sub></M>/V)</>;
const BarTitle = () => <>Polariton Field Energy Density (<M>ħω<Sub>p</Sub></M>/V)</>;
const Box = ({ r, c }: any) => <div style={{ position: "absolute", left: r[0], top: r[1], width: r[2], height: r[3], background: c }} />;
const TAG_FONT = "'Open Sans', sans-serif";

export default function App() {
  return (
    <div style={{ position: "absolute", left: 0, top: 0, width: 3338, height: 1716, overflow: "hidden", background: "#fff" }}>
      {topLayout.map((p: any) => (
        <React.Fragment key={p.id}>
          <Box r={p.lav} c={LAV} />
          <Plot x={p.lav[0]} y={p.lav[1]} w={p.lav[2]} h={p.lav[3] + CANVAS_EXTRA} make={() => topConfig(p)} />
          <Txt x={p.cx + 175} y={p.y0 + 39}>{"\u221210"}</Txt>
          <Txt x={p.cx + 194} y={p.y0 + 53}>10</Txt>
          <Txt x={p.title[0]} y={p.title[1]} rot={-90}><EnergyAxis /></Txt>
          <Txt x={p.tLabel[0]} y={p.tLabel[1]}>T (<M>T<Sub>s</Sub></M>)</Txt>
          <Plot x={p.bar[0] - 60} y={p.bar[1]} w={p.bar[2] + 120} h={p.bar[3] + 60} make={() => barConfig(p.range, p.barTicks, p.barDec)} />
          <Txt x={p.barTitle[0]} y={p.barTitle[1]} spacing={0.7}><BarTitle /></Txt>
          <Txt x={p.tag[0]} y={p.tag[1]} size={54} bold={false} font={TAG_FONT} color="#111">({p.id})</Txt>
        </React.Fragment>
      ))}
      {bottomLayout.map((p: any) => (
        <React.Fragment key={p.id}>
          <Box r={p.lav} c={LAV} />
          <Plot x={p.lav[0]} y={p.lav[1]} w={p.lav[2]} h={p.lav[3] + CANVAS_EXTRA} make={() => bottomConfig(p)} />
          <Txt x={p.titleX} y={p.y0 - 128} rot={-90}><EnergyAxis /></Txt>
          <Txt x={p.titleX} y={p.y0 + 149} rot={-90}>T (<M>T<Sub>s</Sub></M>)</Txt>
          <Txt x={p.zLabel[0]} y={p.zLabel[1]} color="#000" spacing={1.4}>Z (<M>v<Sub>g</Sub>T<Sub>s</Sub></M>)</Txt>
          <Plot x={p.bar[0] - 60} y={p.bar[1]} w={p.bar[2] + 120} h={p.bar[3] + 60} make={() => barConfig(p.range, barTicksRow2, 2)} />
          <Txt x={p.barTitle[0]} y={p.barTitle[1]} spacing={0.7}><BarTitle /></Txt>
          <Txt x={p.tag[0]} y={p.tag[1]} size={54} bold={false} font={TAG_FONT} color="#111">({p.id})</Txt>
          <Txt x={p.yPos[0]} y={p.yPos[1]} size={55} bold={false} font={TAG_FONT} color="#111">{p.yTag}</Txt>
        </React.Fragment>
      ))}
      <Box r={[2672, 575, 2, 57]} c="#12305f" />
      <Box r={[2672, 646, 2, 6]} c="#12305f" />
    </div>
  );
}
